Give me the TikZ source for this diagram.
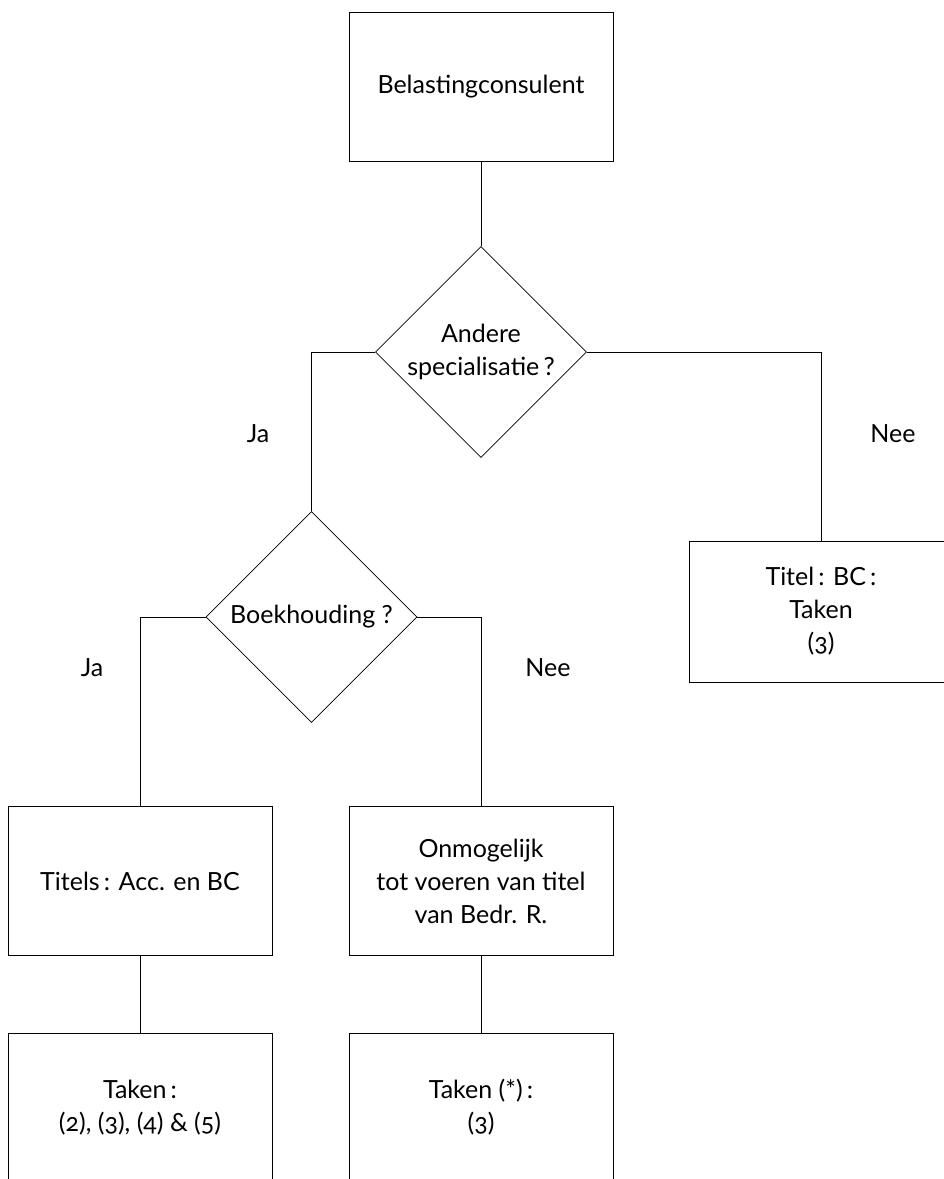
\documentclass[tikz,border=0pt]{standalone}
\usepackage{fontspec}
\setmainfont[Numbers=OldStyle]{Lato}
\usetikzlibrary{shapes.geometric}

\begin{document}
\begin{tikzpicture}[x=1pt, y=-1pt, line width=0.8pt,
    font=\fontsize{25}{33}\selectfont,
    box/.style={draw, rectangle, minimum width=264pt, minimum height=149pt, align=center, inner sep=0pt},
    question/.style={draw, diamond, minimum width=211pt, minimum height=211pt, align=center, inner sep=0pt},
    answer/.style={inner sep=0pt}]
    % Fix the page size
    \useasboundingbox (0,0) rectangle (944,1179);

    % Draw the start box and the questions
    \node[box] (start) at (481,87) {Belastingconsulent};
    \node[question] (q1) at (481,352) {Andere\\specialisatie\,?};
    \node[question] (q2) at (311.5,617) {Boekhouding ?};

    % Draw the outcomes
    \node[box, minimum height=141pt] (bc) at (821,611.5) {Titel\,: BC\,:\\Taken\\(3)};
    \node[box] (acc) at (140,881) {Titels\,: Acc. en BC};
    \node[box] (none) at (481,881) {Onmogelijk\\tot voeren van titel\\van Bedr. R.};
    \node[box] (tasksacc) at (140,1107.5) {Taken\,:\\(2), (3), (4) \& (5)};
    \node[box] (tasksnone) at (481,1107.5) {Taken (*)\,:\\(3)};

    % Draw the connectors
    \draw (start) -- (q1);
    \draw (q1.west) -| (q2.north);
    \draw (q1.east) -| (bc.north);
    \draw (q2.west) -| (acc.north);
    \draw (q2.east) -| (none.north);
    \draw (acc) -- (tasksacc);
    \draw (none) -- (tasksnone);

    % Label the branches
    \node[answer] (ja1) at (258,434) {Ja};
    \node[answer] (nee1) at (893,434) {Nee};
    \node[answer] (ja2) at (92,668) {Ja};
    \node[answer] (nee2) at (548,668) {Nee};
\end{tikzpicture}
\end{document}
